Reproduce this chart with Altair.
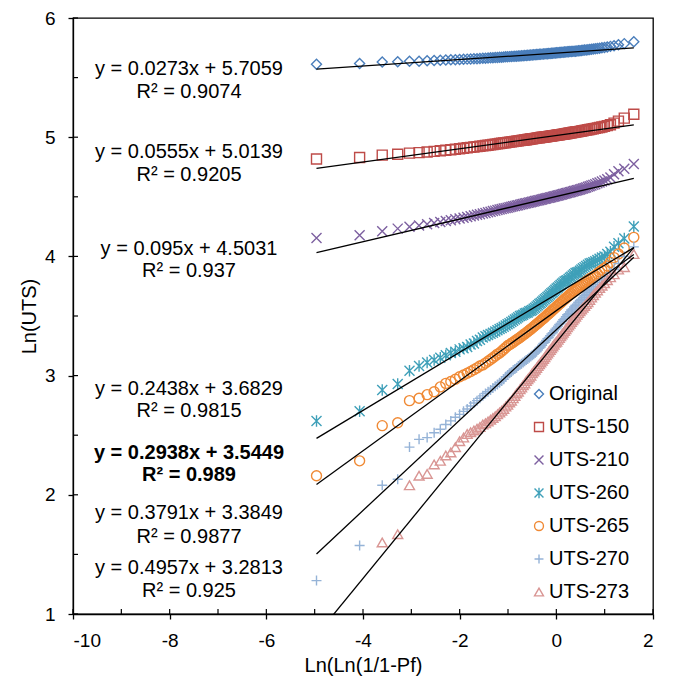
import altair as alt
import pandas as pd

FONT = "Liberation Sans"

# Weibull plotting positions Ln(Ln(1/(1-Pf))) shared by all series
x_vals = [-4.962, -4.070, -3.602, -3.282, -3.038, -2.840, -2.673, -2.528, -2.401, -2.287,
          -2.183, -2.089, -2.001, -1.920, -1.844, -1.773, -1.705, -1.641, -1.581, -1.521,
          -1.466, -1.413, -1.361, -1.312, -1.264, -1.218, -1.174, -1.131, -1.089, -1.048,
          -1.008, -0.969, -0.931, -0.894, -0.858, -0.822, -0.788, -0.753, -0.720, -0.687,
          -0.654, -0.622, -0.591, -0.560, -0.529, -0.499, -0.469, -0.439, -0.410, -0.381,
          -0.352, -0.324, -0.295, -0.267, -0.239, -0.212, -0.184, -0.157, -0.129, -0.102,
          -0.075, -0.048, -0.021, 0.006, 0.033, 0.061, 0.088, 0.115, 0.142, 0.170,
          0.197, 0.225, 0.253, 0.281, 0.309, 0.338, 0.367, 0.397, 0.426, 0.457,
          0.488, 0.519, 0.551, 0.584, 0.618, 0.653, 0.689, 0.726, 0.765, 0.806,
          0.849, 0.894, 0.943, 0.996, 1.054, 1.119, 1.194, 1.285, 1.406, 1.603]

series_names = ["Original", "UTS-150", "UTS-210", "UTS-260", "UTS-265", "UTS-270", "UTS-273"]

y_original = [5.612, 5.618, 5.630, 5.633, 5.637, 5.638, 5.641, 5.643, 5.646, 5.647,
              5.649, 5.650, 5.652, 5.653, 5.655, 5.656, 5.658, 5.659, 5.661, 5.662,
              5.663, 5.664, 5.666, 5.667, 5.668, 5.669, 5.670, 5.671, 5.673, 5.674,
              5.675, 5.676, 5.677, 5.678, 5.679, 5.680, 5.681, 5.682, 5.683, 5.684,
              5.685, 5.686, 5.687, 5.688, 5.689, 5.690, 5.691, 5.692, 5.693, 5.694,
              5.695, 5.696, 5.697, 5.698, 5.699, 5.700, 5.701, 5.702, 5.703, 5.704,
              5.705, 5.706, 5.707, 5.708, 5.709, 5.710, 5.711, 5.712, 5.713, 5.714,
              5.715, 5.716, 5.717, 5.718, 5.719, 5.720, 5.721, 5.722, 5.724, 5.725,
              5.726, 5.728, 5.729, 5.731, 5.732, 5.734, 5.736, 5.738, 5.740, 5.742,
              5.744, 5.747, 5.750, 5.753, 5.757, 5.762, 5.768, 5.775, 5.785, 5.800]

y_uts150 = [4.817, 4.830, 4.850, 4.857, 4.866, 4.871, 4.876, 4.881, 4.886, 4.890,
            4.895, 4.899, 4.903, 4.907, 4.911, 4.915, 4.918, 4.921, 4.924, 4.927,
            4.930, 4.933, 4.936, 4.939, 4.942, 4.944, 4.947, 4.949, 4.952, 4.954,
            4.957, 4.959, 4.961, 4.963, 4.965, 4.967, 4.969, 4.971, 4.973, 4.975,
            4.977, 4.979, 4.981, 4.983, 4.985, 4.987, 4.988, 4.990, 4.992, 4.994,
            4.995, 4.997, 4.999, 5.000, 5.002, 5.004, 5.005, 5.007, 5.009, 5.010,
            5.012, 5.013, 5.015, 5.017, 5.018, 5.020, 5.022, 5.024, 5.025, 5.027,
            5.029, 5.031, 5.033, 5.035, 5.037, 5.039, 5.041, 5.043, 5.045, 5.047,
            5.049, 5.052, 5.054, 5.057, 5.059, 5.062, 5.065, 5.068, 5.071, 5.074,
            5.078, 5.082, 5.086, 5.091, 5.097, 5.105, 5.118, 5.135, 5.160, 5.192]

y_uts210 = [4.155, 4.178, 4.211, 4.233, 4.249, 4.260, 4.270, 4.280, 4.289, 4.297,
            4.304, 4.311, 4.318, 4.325, 4.331, 4.337, 4.343, 4.349, 4.354, 4.360,
            4.365, 4.370, 4.375, 4.380, 4.384, 4.389, 4.393, 4.397, 4.401, 4.405,
            4.409, 4.413, 4.416, 4.420, 4.423, 4.427, 4.430, 4.433, 4.437, 4.440,
            4.443, 4.446, 4.449, 4.452, 4.455, 4.458, 4.461, 4.464, 4.467, 4.470,
            4.472, 4.475, 4.478, 4.481, 4.483, 4.486, 4.489, 4.491, 4.494, 4.497,
            4.500, 4.502, 4.505, 4.508, 4.511, 4.514, 4.517, 4.520, 4.523, 4.526,
            4.529, 4.532, 4.535, 4.538, 4.541, 4.544, 4.548, 4.551, 4.555, 4.558,
            4.562, 4.566, 4.570, 4.574, 4.579, 4.584, 4.589, 4.594, 4.600, 4.606,
            4.613, 4.620, 4.628, 4.637, 4.648, 4.662, 4.690, 4.715, 4.735, 4.775]

y_uts260 = [2.62, 2.70, 2.88, 2.93, 3.04, 3.08, 3.11, 3.13, 3.15, 3.17,
            3.19, 3.20, 3.22, 3.23, 3.24, 3.26, 3.27, 3.29, 3.30, 3.32,
            3.33, 3.34, 3.35, 3.36, 3.37, 3.38, 3.39, 3.40, 3.41, 3.42,
            3.43, 3.44, 3.45, 3.46, 3.47, 3.48, 3.49, 3.50, 3.505, 3.51,
            3.52, 3.525, 3.53, 3.54, 3.545, 3.55, 3.56, 3.57, 3.58, 3.59,
            3.60, 3.61, 3.62, 3.63, 3.64, 3.65, 3.66, 3.67, 3.68, 3.69,
            3.70, 3.71, 3.72, 3.73, 3.74, 3.75, 3.76, 3.77, 3.78, 3.79,
            3.795, 3.80, 3.81, 3.82, 3.83, 3.84, 3.85, 3.86, 3.865, 3.87,
            3.88, 3.89, 3.90, 3.91, 3.92, 3.93, 3.94, 3.945, 3.95, 3.96,
            3.97, 3.98, 3.99, 4.00, 4.02, 4.04, 4.08, 4.11, 4.15, 4.25]

y_uts265 = [2.16, 2.285, 2.58, 2.605, 2.79, 2.81, 2.84, 2.865, 2.905, 2.935,
            2.95, 2.97, 2.99, 3.005, 3.02, 3.035, 3.05, 3.065, 3.08, 3.09,
            3.105, 3.12, 3.135, 3.15, 3.165, 3.18, 3.19, 3.205, 3.22, 3.235,
            3.25, 3.26, 3.27, 3.28, 3.29, 3.30, 3.31, 3.32, 3.33, 3.34,
            3.35, 3.36, 3.37, 3.38, 3.39, 3.40, 3.41, 3.42, 3.43, 3.44,
            3.45, 3.46, 3.47, 3.48, 3.49, 3.50, 3.51, 3.52, 3.53, 3.54,
            3.55, 3.56, 3.57, 3.58, 3.59, 3.60, 3.61, 3.62, 3.63, 3.64,
            3.65, 3.66, 3.67, 3.68, 3.69, 3.70, 3.71, 3.72, 3.73, 3.74,
            3.75, 3.76, 3.77, 3.78, 3.79, 3.80, 3.81, 3.82, 3.83, 3.84,
            3.855, 3.87, 3.885, 3.90, 3.92, 3.95, 3.99, 4.02, 4.07, 4.16]

y_uts270 = [1.28, 1.575, 2.08, 2.13, 2.40, 2.465, 2.48, 2.52, 2.55, 2.59,
            2.62, 2.65, 2.675, 2.70, 2.72, 2.745, 2.77, 2.79, 2.81, 2.83,
            2.85, 2.865, 2.88, 2.895, 2.91, 2.925, 2.94, 2.955, 2.97, 2.99,
            3.005, 3.02, 3.03, 3.045, 3.055, 3.065, 3.08, 3.09, 3.10, 3.11,
            3.12, 3.13, 3.14, 3.15, 3.16, 3.17, 3.18, 3.19, 3.20, 3.215,
            3.23, 3.24, 3.255, 3.27, 3.28, 3.295, 3.31, 3.32, 3.335, 3.35,
            3.36, 3.375, 3.39, 3.40, 3.415, 3.43, 3.44, 3.455, 3.47, 3.48,
            3.495, 3.51, 3.52, 3.535, 3.55, 3.56, 3.575, 3.59, 3.60, 3.615,
            3.63, 3.64, 3.655, 3.67, 3.68, 3.695, 3.71, 3.72, 3.735, 3.75,
            3.765, 3.78, 3.795, 3.81, 3.83, 3.86, 3.89, 3.94, 4.00, 4.08]

y_uts273 = [0.72, 0.93, 1.60, 1.67, 2.08, 2.16, 2.175, 2.255, 2.285, 2.33,
            2.355, 2.40, 2.45, 2.48, 2.51, 2.525, 2.54, 2.555, 2.57, 2.59,
            2.60, 2.615, 2.63, 2.645, 2.66, 2.675, 2.69, 2.705, 2.72, 2.74,
            2.755, 2.775, 2.79, 2.81, 2.83, 2.85, 2.865, 2.885, 2.90, 2.92,
            2.935, 2.955, 2.97, 2.985, 3.00, 3.02, 3.035, 3.05, 3.065, 3.08,
            3.095, 3.11, 3.125, 3.14, 3.155, 3.17, 3.185, 3.20, 3.215, 3.23,
            3.245, 3.26, 3.275, 3.285, 3.30, 3.315, 3.33, 3.345, 3.36, 3.375,
            3.39, 3.405, 3.42, 3.435, 3.45, 3.465, 3.48, 3.495, 3.51, 3.525,
            3.54, 3.555, 3.57, 3.585, 3.60, 3.615, 3.635, 3.655, 3.675, 3.695,
            3.715, 3.735, 3.755, 3.775, 3.80, 3.825, 3.85, 3.89, 3.91, 4.02]

# Trendline coefficients shown on the chart
slopes = [0.0273, 0.0555, 0.095, 0.2438, 0.2938, 0.3791, 0.4957]
intercepts = [5.7059, 5.0139, 4.5031, 3.6829, 3.5449, 3.3849, 3.2813]
eq_labels = ["y = 0.0273x + 5.7059", "y = 0.0555x + 5.0139", "y = 0.095x + 4.5031",
             "y = 0.2438x + 3.6829", "y = 0.2938x + 3.5449", "y = 0.3791x + 3.3849",
             "y = 0.4957x + 3.2813"]
r2_labels = ["R² = 0.9074", "R² = 0.9205", "R² = 0.937", "R² = 0.9815",
             "R² = 0.989", "R² = 0.9877", "R² = 0.925"]
bold_flags = [False, False, False, False, True, False, False]

# styling / placement (kept apart from the data)
colors = ["#4A7EBB", "#BE4B48", "#7D60A0", "#3FA0B9", "#F08A35", "#95B3D7", "#D99694"]
X_SHAPE = "M-1,-1L1,1M-1,1L1,-1"
STAR_SHAPE = "M-1,-1L1,1M-1,1L1,-1M0,-1.15L0,1.15"
PLUS_SHAPE = "M-1,0L1,0M0,-1L0,1"
shapes = ["diamond", "square", X_SHAPE, STAR_SHAPE, "circle", PLUS_SHAPE, "triangle-up"]
label_x = -7.6
eq_label_y = [5.57, 4.875, 4.06, 2.89, 2.35, 1.85, 1.39]
r2_label_y = [5.378, 4.683, 3.875, 2.705, 2.167, 1.65, 1.192]

all_y = [y_original, y_uts150, y_uts210, y_uts260, y_uts265, y_uts270, y_uts273]
rows = []
for name, ys in zip(series_names, all_y):
    for xv, yv in zip(x_vals, ys):
        rows.append({"series": name, "x": xv, "y": yv})
df = pd.DataFrame(rows)

x_lo, x_hi = min(x_vals), max(x_vals)
line_rows = []
for name, m, b in zip(series_names, slopes, intercepts):
    line_rows.append({"series": name, "x": x_lo, "y": m * x_lo + b})
    line_rows.append({"series": name, "x": x_hi, "y": m * x_hi + b})
df_lines = pd.DataFrame(line_rows)

text_rows = []
for eq, r2, ey, ry, bold in zip(eq_labels, r2_labels, eq_label_y, r2_label_y, bold_flags):
    text_rows.append({"x": label_x, "y": ey, "t": eq, "bold": bold})
    text_rows.append({"x": label_x, "y": ry, "t": r2, "bold": bold})
df_text = pd.DataFrame(text_rows)

PLOT_H = 596

xscale = alt.Scale(domain=[-10, 2], nice=False)
yscale = alt.Scale(domain=[1, 6], nice=False)
xaxis = alt.Axis(values=list(range(-10, 3, 2)), title="Ln(Ln(1/1-Pf)",
                 labelExpr="'' + datum.value", labelFontSize=19,
                 labelPadding=12, titlePadding=5)
yaxis = alt.Axis(values=[1, 2, 3, 4, 5, 6], title="Ln(UTS)", labelFontSize=19,
                 labelPadding=13, titlePadding=5)
X = alt.X("x:Q", scale=xscale, axis=xaxis)
Y = alt.Y("y:Q", scale=yscale, axis=yaxis)

legend = alt.Legend(title=None, orient="none", legendX=456, legendY=366,
                    labelFontSize=20, labelFont=FONT, labelColor="black",
                    symbolSize=80, symbolStrokeWidth=1.4, rowPadding=13,
                    labelOffset=0, padding=0)

points = alt.Chart(df).mark_point(filled=False, size=100, strokeWidth=1.4, opacity=1, clip=True).encode(
    x=X, y=Y,
    color=alt.Color("series:N", scale=alt.Scale(domain=series_names, range=colors), legend=legend),
    shape=alt.Shape("series:N", scale=alt.Scale(domain=series_names, range=shapes), legend=legend),
)

lines = alt.Chart(df_lines).mark_line(color="black", strokeWidth=1.3, clip=True).encode(
    x=X, y=Y, detail="series:N",
)

xt = pd.DataFrame({"x": list(range(-10, 3))})
x_inner = alt.Chart(xt).mark_rule(color="black", strokeWidth=1.2).encode(
    x=X, y=alt.value(PLOT_H), y2=alt.value(PLOT_H - 5))
yt = pd.DataFrame({"y": [1 + 0.5 * i for i in range(11)]})
y_inner = alt.Chart(yt).mark_rule(color="black", strokeWidth=1.2).encode(
    y=Y, x=alt.value(0), x2=alt.value(5))

texts = alt.Chart(df_text).transform_filter("!datum.bold").mark_text(
    font=FONT, fontSize=20, color="black", align="center", baseline="middle").encode(
    x=X, y=Y, text="t:N")
texts_bold = alt.Chart(df_text).transform_filter("datum.bold").mark_text(
    font=FONT, fontSize=20, color="black", fontWeight="bold", align="center", baseline="middle").encode(
    x=X, y=Y, text="t:N")

chart = alt.layer(points, lines, x_inner, y_inner, texts, texts_bold).properties(
    width=580, height=PLOT_H,
    autosize=alt.AutoSizeParams(type="none"),
    padding={"left": 65, "top": 10, "right": 13, "bottom": 67},
).configure_view(stroke="black", strokeWidth=1.3).configure_axis(
    grid=False, domainColor="black", domainWidth=1.3, tickColor="black", tickWidth=1.3,
    tickSize=5, labelColor="black", titleColor="black", labelFont=FONT, titleFont=FONT,
    titleFontSize=20, titleFontWeight="normal",
)

chart.save("out.html", embed_options={"renderer": "svg", "actions": False})
